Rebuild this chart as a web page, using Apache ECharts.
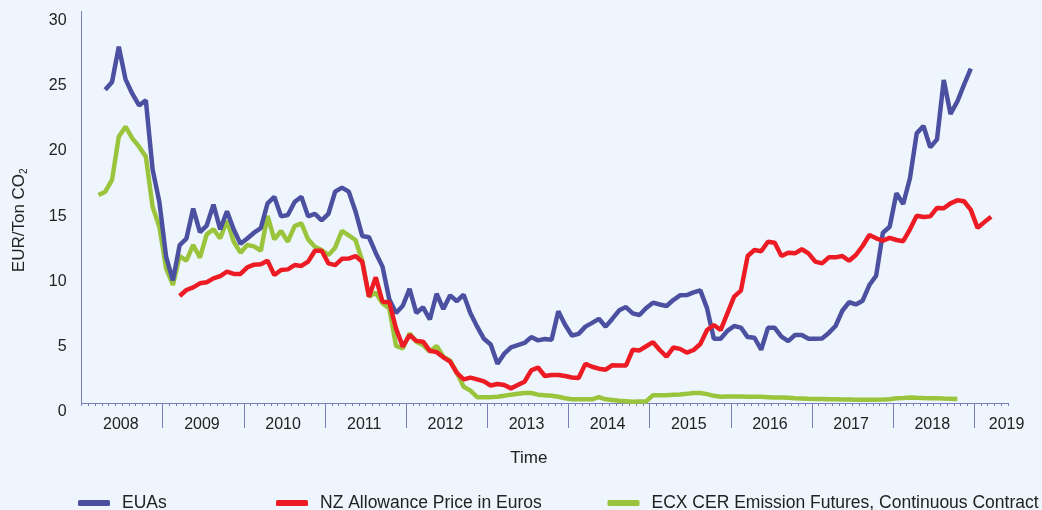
<!DOCTYPE html>
<html>
<head>
<meta charset="utf-8">
<script src="https://cdn.jsdelivr.net/npm/echarts@6/dist/echarts.min.js"></script>
<style>
  html, body { margin: 0; padding: 0; background: #eef5fc; }
  #chart { width: 1042px; height: 510px; }
</style>
</head>
<body>
<div id="chart"></div>
<script>
// Monthly carbon prices, EUR per tonne CO2, Jan 2008 – May 2019
const years = ['2008','2009','2010','2011','2012','2013','2014','2015','2016','2017','2018','2019'];
const monthCount = 137;

const months = [];
for (const y of years) {
  for (let m = 1; m <= 12 && months.length < monthCount; m++) {
    months.push(y + '-' + (m < 10 ? '0' + m : m));
  }
}
// Year boundaries (one entry per month edge)
const monthEdges = [];
for (let k = 0; k <= monthCount; k++) monthEdges.push(String(k));

const euas = [
  null, null, null, 24.0, 24.6, 27.3, 24.8, 23.7, 22.8, 23.2, 17.9, 15.4,
  11.2, 9.4, 12.1, 12.6, 14.9, 13.1, 13.6, 15.2, 13.3, 14.7, 13.3, 12.2,
  12.6, 13.05, 13.4, 15.3, 15.8, 14.3, 14.4, 15.4, 15.8, 14.3, 14.5, 14.0,
  14.5, 16.2, 16.5, 16.2, 14.7, 12.8, 12.7, 11.5, 10.45, 7.95, 6.9, 7.45,
  8.75, 6.9, 7.33, 6.4, 8.37, 7.2, 8.25, 7.8, 8.3, 6.87, 5.85, 4.92,
  4.48, 3.0, 3.78, 4.27, 4.44, 4.6, 5.05, 4.8, 4.9, 4.85, 7.03, 6.0,
  5.17, 5.3, 5.85, 6.14, 6.45, 5.85, 6.46, 7.1, 7.35, 6.87, 6.74, 7.28,
  7.69, 7.55, 7.43, 7.89, 8.25, 8.27, 8.47, 8.63, 7.25, 4.92, 4.92, 5.53,
  5.9, 5.78, 5.05, 5.0, 4.08, 5.76, 5.76, 5.08, 4.74, 5.21, 5.21, 4.92,
  4.92, 4.95, 5.37, 5.9, 7.07, 7.72, 7.55, 7.84, 9.04, 9.75, 13.05, 13.51,
  16.07, 15.25, 17.22, 20.66, 21.23, 19.59, 20.2, 24.75, 22.15, 23.1, 24.4, 25.62,
  null, null, null, null, null
];

const nzAllowance = [
  null, null, null, null, null, null, null, null, null, null, null, null,
  null, null, 8.2, 8.66, 8.86, 9.17, 9.25, 9.55, 9.73, 10.06, 9.89, 9.89,
  10.4, 10.6, 10.63, 10.9, 9.81, 10.19, 10.24, 10.57, 10.5, 10.83, 11.67, 11.67,
  10.7, 10.57, 11.05, 11.07, 11.26, 10.83, 8.15, 9.63, 7.76, 7.72, 5.7, 4.32,
  5.21, 4.76, 4.7, 4.0, 3.9, 3.5, 3.17, 2.3, 1.81, 1.95, 1.81, 1.66,
  1.34, 1.46, 1.38, 1.12, 1.38, 1.63, 2.5, 2.72, 2.07, 2.15, 2.15, 2.07,
  1.95, 1.92, 3.0, 2.78, 2.63, 2.55, 2.9, 2.87, 2.87, 4.08, 4.03, 4.35,
  4.66, 4.06, 3.55, 4.25, 4.15, 3.86, 4.06, 4.52, 5.59, 5.98, 5.59, 6.87,
  8.15, 8.61, 11.26, 11.72, 11.63, 12.36, 12.28, 11.26, 11.52, 11.47, 11.78, 11.47,
  10.83, 10.7, 11.16, 11.16, 11.26, 10.9, 11.34, 12.03, 12.87, 12.62, 12.45, 12.65,
  12.49, 12.4, 13.31, 14.35, 14.25, 14.3, 14.95, 14.92, 15.3, 15.53, 15.46, 14.8,
  13.42, 13.86, 14.28, null, null
];

const ecxCer = [
  null, null, 15.94, 16.19, 17.09, 20.41, 21.17, 20.28, 19.64, 18.88, 15.04, 13.51,
  10.32, 9.04, 11.26, 10.91, 12.11, 11.14, 12.92, 13.31, 12.62, 13.97, 12.36, 11.52,
  12.11, 12.0, 11.67, 14.33, 12.54, 13.18, 12.36, 13.56, 13.77, 12.54, 11.98, 11.72,
  11.34, 11.9, 13.2, 12.84, 12.49, 10.9, 8.15, 8.45, 7.64, 7.25, 4.37, 4.19,
  5.34, 4.7, 4.44, 3.93, 4.37, 3.55, 3.24, 2.32, 1.25, 0.95, 0.45, 0.45,
  0.45, 0.48, 0.56, 0.64, 0.71, 0.77, 0.77, 0.64, 0.59, 0.56, 0.48, 0.36,
  0.28, 0.28, 0.28, 0.28, 0.45, 0.28, 0.23, 0.18, 0.14, 0.1, 0.12, 0.12,
  0.6, 0.6, 0.6, 0.64, 0.66, 0.7, 0.76, 0.77, 0.68, 0.55, 0.48, 0.5,
  0.49, 0.49, 0.48, 0.48, 0.47, 0.45, 0.43, 0.42, 0.4, 0.36, 0.34, 0.32,
  0.31, 0.3, 0.29, 0.28, 0.27, 0.26, 0.25, 0.24, 0.24, 0.25, 0.26, 0.28,
  0.36, 0.38, 0.43, 0.4, 0.38, 0.37, 0.36, 0.34, 0.33, 0.31, null, null,
  null, null, null, null, null
];

const seriesNames = ['EUAs', 'NZ Allowance Price in Euros', 'ECX CER Emission Futures, Continuous Contract'];
const colors = { eua: '#4b50a0', nz: '#ed1c24', cer: '#99c43c' };
const axisColor = '#7b7ebd';
const textColor = '#222';
const font = 'Liberation Sans, Arial, Helvetica, sans-serif';

const chart = echarts.init(document.getElementById('chart'), null, { renderer: 'canvas' });

function legendAt(name, left) {
  return {
    data: [name],
    left: left,
    top: 494,
    padding: 0,
    icon: 'roundRect',
    itemWidth: 32,
    itemHeight: 6,
    selectedMode: false,
    textStyle: { fontSize: 17.5, color: textColor, fontFamily: font, padding: [0, 0, 0, 7] }
  };
}

chart.setOption({
  backgroundColor: '#eef5fc',
  animation: false,
  textStyle: { fontFamily: font },
  grid: { left: 81.6, right: 34, top: 11.5, bottom: 107, containLabel: false, outerBoundsMode: 'none' },
  legend: [
    legendAt(seriesNames[0], 78),
    legendAt(seriesNames[1], 276),
    legendAt(seriesNames[2], 607.5)
  ],
  xAxis: [
    {
      type: 'category',
      data: months,
      boundaryGap: true,
      axisLine: { show: true, onZero: false, lineStyle: { color: axisColor, width: 1 } },
      axisTick: { show: true, interval: 0, length: 3, lineStyle: { color: axisColor } },
      axisLabel: {
        interval: function (i) { return i % 12 === 5 || i === monthCount - 1; },
        formatter: function (v) { return v.slice(0, 4); },
        fontSize: 16, color: textColor, margin: 14, padding: [0, 0, 0, 4]
      },
      splitLine: { show: false },
      name: 'Time',
      nameLocation: 'middle',
      nameGap: 47,
      nameTextStyle: { fontSize: 17, color: textColor, padding: [0, 32, 0, 0] }
    },
    {
      type: 'category',
      data: monthEdges,
      boundaryGap: false,
      position: 'bottom',
      axisLine: { show: false },
      axisTick: {
        show: true,
        interval: function (k) { return k > 0 && k < monthCount && k % 12 === 0; },
        length: 25,
        lineStyle: { color: axisColor }
      },
      axisLabel: { show: false },
      splitLine: { show: false }
    }
  ],
  yAxis: {
    type: 'value',
    min: 0,
    max: 30,
    interval: 5,
    axisLine: { show: true, lineStyle: { color: axisColor, width: 1 } },
    axisTick: { show: false },
    splitLine: { show: false },
    axisLabel: { fontSize: 16, color: textColor, margin: 15, verticalAlign: 'top', lineHeight: 18 },
    name: 'EUR/Ton CO{sub|2}',
    nameLocation: 'middle',
    nameGap: 52,
    nameTextStyle: {
      fontSize: 17, color: textColor, lineHeight: 20,
      padding: [0, 26, 0, 0],
      rich: { sub: { fontSize: 10, verticalAlign: 'bottom', lineHeight: 20, color: textColor } }
    }
  },
  series: [
    {
      name: seriesNames[2], type: 'line', data: ecxCer, xAxisIndex: 0,
      showSymbol: false, symbol: 'none', connectNulls: false,
      lineStyle: { width: 4.5, color: colors.cer }, itemStyle: { color: colors.cer }, z: 2
    },
    {
      name: seriesNames[0], type: 'line', data: euas, xAxisIndex: 0,
      showSymbol: false, symbol: 'none',
      lineStyle: { width: 4.5, color: colors.eua }, itemStyle: { color: colors.eua }, z: 3
    },
    {
      name: seriesNames[1], type: 'line', data: nzAllowance, xAxisIndex: 0,
      showSymbol: false, symbol: 'none',
      lineStyle: { width: 4.5, color: colors.nz }, itemStyle: { color: colors.nz }, z: 4
    }
  ]
});
</script>
</body>
</html>
